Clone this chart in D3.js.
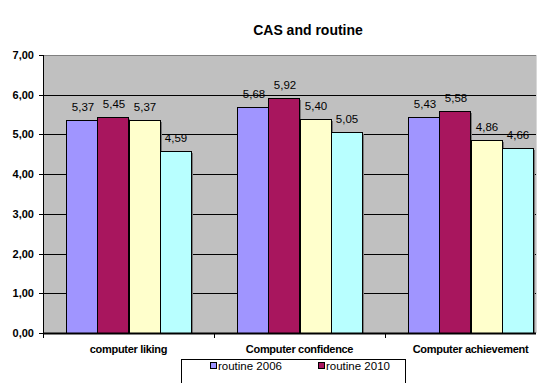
<!DOCTYPE html>
<html>
<head>
<meta charset="utf-8">
<script src="https://cdn.jsdelivr.net/npm/d3@7"></script>
<style>
  html, body { margin: 0; padding: 0; background: #ffffff; }
  svg { display: block; font-family: "Liberation Sans", Arial, sans-serif; }
</style>
</head>
<body>
<svg id="chart" width="553" height="383"></svg>
<script>
const title = "CAS and routine";
const categories = ["computer liking", "Computer confidence", "Computer achievement"];
const seriesIndex = [0, 1, 2, 3];
const seriesColors = ["#A095FF", "#A8165E", "#FFFFCC", "#B8FFFF"];
const values = [
  [5.37, 5.45, 5.37, 4.59],
  [5.68, 5.92, 5.40, 5.05],
  [5.43, 5.58, 4.86, 4.66]
];
const legendLabels = ["routine 2006", "routine 2010"];
const yTicks = [0, 1, 2, 3, 4, 5, 6, 7];

const svg = d3.select("#chart");
const fmt = v => d3.format(".2f")(v).replace(".", ",");

const plotLeft = 43, plotRight = 536, catRight = 556;
const y = d3.scaleLinear().domain([0, 7]).range([333, 55]);
const x0 = d3.scaleBand().domain(categories).range([plotLeft, catRight]).padding(0);
const x1 = d3.scaleBand().domain(seriesIndex).range([0, x0.bandwidth()]).paddingInner(0).paddingOuter(0.758);

// clip
svg.append("defs").append("clipPath").attr("id", "plotclip")
  .append("rect").attr("x", plotLeft).attr("y", 50).attr("width", plotRight - plotLeft).attr("height", 290);

// plot background
svg.append("rect")
  .attr("x", plotLeft).attr("y", y(7))
  .attr("width", plotRight - plotLeft).attr("height", y(0) - y(7))
  .attr("fill", "#C0C0C0");

// gridlines
svg.append("g").selectAll("line").data(yTicks.filter(d => d > 0)).join("line")
  .attr("x1", plotLeft).attr("x2", plotRight)
  .attr("y1", d => Math.round(y(d)) + 0.5).attr("y2", d => Math.round(y(d)) + 0.5)
  .attr("stroke", d => d === 7 ? "#808080" : "#000").attr("stroke-width", 1);

// right edge of plot
svg.append("line").attr("x1", plotRight + 0.5).attr("x2", plotRight + 0.5)
  .attr("y1", y(7)).attr("y2", y(0)).attr("stroke", "#D8D8D8");

// bars
const gBars = svg.append("g").attr("clip-path", "url(#plotclip)");
const groups = gBars.selectAll("g.cat").data(categories).join("g")
  .attr("class", "cat")
  .attr("transform", d => `translate(${x0(d)},0)`);

groups.each(function(cat, ci) {
  const g = d3.select(this);
  const data = seriesIndex.map(si => ({ si, v: values[ci][si] }));
  // shadow
  g.selectAll("rect.shadow").data(data).join("rect")
    .attr("class", "shadow")
    .attr("x", d => Math.round(x1(d.si)) + 2)
    .attr("y", d => Math.round(y(d.v)) + 2)
    .attr("width", Math.round(x1.bandwidth()))
    .attr("height", d => y(0) - Math.round(y(d.v)) - 2)
    .attr("fill", "#7a7a7a");
  g.selectAll("rect.bar").data(data).join("rect")
    .attr("class", "bar")
    .attr("x", d => Math.round(x1(d.si)) + 0.5)
    .attr("y", d => Math.round(y(d.v)) + 0.5)
    .attr("width", Math.round(x1.bandwidth()))
    .attr("height", d => y(0) - Math.round(y(d.v)))
    .attr("fill", d => seriesColors[d.si])
    .attr("stroke", "#000").attr("stroke-width", 1);
  g.selectAll("text.lbl").data(data).join("text")
    .attr("class", "lbl")
    .attr("x", d => x1(d.si) + x1.bandwidth() / 2 + 1)
    .attr("y", d => y(d.v) - 9)
    .attr("text-anchor", "middle")
    .attr("font-size", 11.5)
    .attr("fill", "#000")
    .text(d => fmt(d.v));
});

// y axis
svg.append("line").attr("x1", plotLeft + 0.5).attr("x2", plotLeft + 0.5)
  .attr("y1", y(7)).attr("y2", y(0)).attr("stroke", "#000");
const yAxisG = svg.append("g");
yAxisG.selectAll("line").data(yTicks).join("line")
  .attr("x1", plotLeft - 4).attr("x2", plotLeft)
  .attr("y1", d => Math.round(y(d)) + 0.5).attr("y2", d => Math.round(y(d)) + 0.5)
  .attr("stroke", "#000");
yAxisG.selectAll("text").data(yTicks).join("text")
  .attr("x", 34).attr("y", d => y(d) + 4)
  .attr("text-anchor", "end")
  .attr("font-size", 11).attr("font-weight", "bold")
  .attr("fill", "#000")
  .text(d => fmt(d));

// x axis
svg.append("line").attr("x1", plotLeft).attr("x2", plotRight)
  .attr("y1", y(0) + 0.5).attr("y2", y(0) + 0.5)
  .attr("stroke", "#000").attr("stroke-width", 2);
svg.append("g").selectAll("line").data(categories).join("line")
  .attr("x1", d => x0(d) + 0.5).attr("x2", d => x0(d) + 0.5)
  .attr("y1", y(0)).attr("y2", y(0) + 5)
  .attr("stroke", "#000");
svg.append("g").selectAll("text").data(categories).join("text")
  .attr("x", d => x0(d) + x0.bandwidth() / 2)
  .attr("y", 353)
  .attr("text-anchor", "middle")
  .attr("font-size", 11).attr("font-weight", "bold")
  .attr("letter-spacing", -0.3)
  .attr("fill", "#000")
  .text(d => d);

// title
svg.append("text").attr("x", 308).attr("y", 35)
  .attr("text-anchor", "middle")
  .attr("font-size", 14).attr("font-weight", "bold")
  .attr("fill", "#000")
  .text(title);

// legend (cut off at bottom)
svg.append("rect").attr("x", 181.5).attr("y", 359.5)
  .attr("width", 224).attr("height", 40)
  .attr("fill", "#fff").attr("stroke", "#000");
const leg = svg.append("g").selectAll("g").data(legendLabels).join("g")
  .attr("transform", (d, i) => `translate(${210 + i * 108},0)`);
leg.append("rect").attr("x", 0.5).attr("y", 362.5).attr("width", 6).attr("height", 6)
  .attr("fill", (d, i) => seriesColors[i]).attr("stroke", "#000");
leg.append("text").attr("x", 8).attr("y", 370)
  .attr("font-size", 11.5).attr("fill", "#000")
  .text(d => d);
</script>
</body>
</html>
